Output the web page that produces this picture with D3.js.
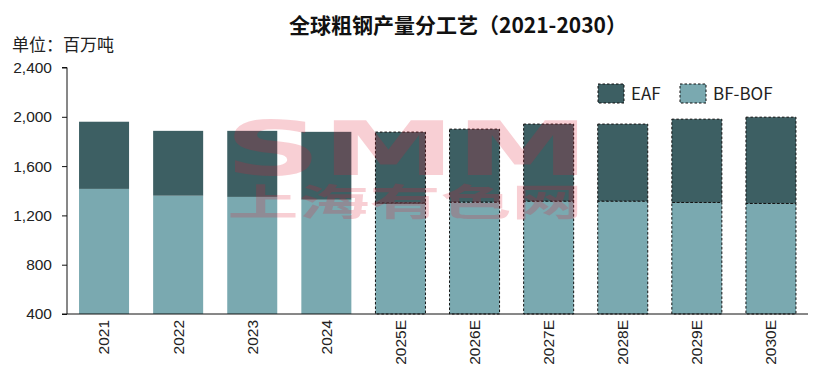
<!DOCTYPE html>
<html>
<head>
<meta charset="utf-8">
<script src="https://cdn.jsdelivr.net/npm/d3@7/dist/d3.min.js"></script>
<style>
  body { margin: 0; background: #fff; }
  svg { display: block; font-family: "Noto Sans CJK SC", "Noto Sans", sans-serif; }
  .tick text { font-size: 15.5px; fill: #222; }
</style>
</head>
<body>
<svg width="826" height="374"></svg>
<script>
const years = ['2021', '2022', '2023', '2024', '2025E', '2026E', '2027E', '2028E', '2029E', '2030E'];
const bfBof = [1415, 1360, 1350, 1327, 1300, 1308, 1316, 1316, 1305, 1297];
const eaf   = [545, 526, 536, 551, 576, 592, 625, 625, 676, 700];
const yTicks = [400, 800, 1200, 1600, 2000, 2400];
const estimated = [false, false, false, false, true, true, true, true, true, true];

const colorEAF = '#3d5f63';
const colorBOF = '#7aa9b0';

const svg = d3.select('svg');
const margin = {left: 67, right: 18, top: 67, bottom: 60};
const width = +svg.attr('width');
const height = +svg.attr('height');

const data = years.map((y, i) => ({year: y, bof: bfBof[i], eaf: eaf[i], est: estimated[i]}));

const xScale = d3.scaleBand()
  .domain(years)
  .range([margin.left, width - margin.right])
  .paddingInner(0.325)
  .paddingOuter(0.1625);

const yScale = d3.scaleLinear()
  .domain([400, 2400])
  .range([314, 67.5]);

// title + unit
svg.append('text')
  .attr('x', 458).attr('y', 33)
  .attr('text-anchor', 'middle')
  .attr('font-size', 21).attr('font-weight', 'bold')
  .attr('fill', '#111')
  .text('全球粗钢产量分工艺（2021-2030）');

svg.append('text')
  .attr('x', 12).attr('y', 51)
  .attr('font-size', 17).attr('fill', '#222')
  .text('单位：百万吨');

// bars
const bars = svg.append('g');
const stacked = d3.stack().keys(['bof', 'eaf'])(data);
const colors = {bof: colorBOF, eaf: colorEAF};

stacked.forEach(layer => {
  bars.selectAll(null).data(layer).enter().append('rect')
    .attr('x', d => xScale(d.data.year))
    .attr('width', xScale.bandwidth())
    .attr('y', d => yScale(Math.max(d[1], 400)))
    .attr('height', d => yScale(Math.max(d[0], 400)) - yScale(Math.max(d[1], 400)))
    .attr('fill', colors[layer.key])
    .attr('stroke', d => d.data.est ? '#111' : 'none')
    .attr('stroke-width', 1)
    .attr('stroke-dasharray', '2.5,2');
});

// watermark
const wm = svg.append('g').attr('fill', 'rgba(220,30,50,0.21)').attr('pointer-events', 'none');
wm.append('text')
  .attr('x', 407).attr('y', 175)
  .attr('text-anchor', 'middle')
  .attr('font-family', 'DejaVu Sans')
  .attr('font-weight', 'bold')
  .attr('font-size', 75)
  .attr('textLength', 365)
  .attr('lengthAdjust', 'spacingAndGlyphs')
  .text('SMM');
wm.append('text')
  .attr('x', 405).attr('y', 216)
  .attr('text-anchor', 'middle')
  .attr('font-weight', 'bold')
  .attr('font-size', 37)
  .attr('textLength', 355)
  .attr('lengthAdjust', 'spacingAndGlyphs')
  .text('上海有色网');

// axes
const yAxis = d3.axisLeft(yScale)
  .tickValues(yTicks)
  .tickFormat(d3.format(','))
  .tickSize(5)
  .tickPadding(10);

const yAxisG = svg.append('g')
  .attr('transform', `translate(${margin.left},0)`)
  .call(yAxis);
yAxisG.select('.domain').attr('stroke', '#111').attr('d', `M-5,67.5H0V314`);
yAxisG.selectAll('.tick line').attr('stroke', '#111');

const xAxis = d3.axisBottom(xScale).tickSize(0).tickPadding(8);
const xAxisG = svg.append('g')
  .attr('transform', 'translate(0,314)')
  .call(xAxis);
xAxisG.select('.domain').attr('stroke', '#111').attr('d', `M${margin.left - 5},0H${width - margin.right}`);
xAxisG.selectAll('.tick text')
  .attr('transform', 'rotate(-90)')
  .attr('text-anchor', 'end')
  .attr('x', -6)
  .attr('y', 0)
  .attr('dy', '0.35em');

// legend
const legend = svg.append('g');
const items = [
  {label: 'EAF', color: colorEAF, x: 598},
  {label: 'BF-BOF', color: colorBOF, x: 680}
];
items.forEach(it => {
  legend.append('rect')
    .attr('x', it.x).attr('y', 84)
    .attr('width', 26).attr('height', 19)
    .attr('fill', it.color)
    .attr('stroke', '#111').attr('stroke-dasharray', '2.5,2');
  legend.append('text')
    .attr('x', it.x + 33).attr('y', 100)
    .attr('font-size', 17).attr('fill', '#222')
    .text(it.label);
});
</script>
</body>
</html>
